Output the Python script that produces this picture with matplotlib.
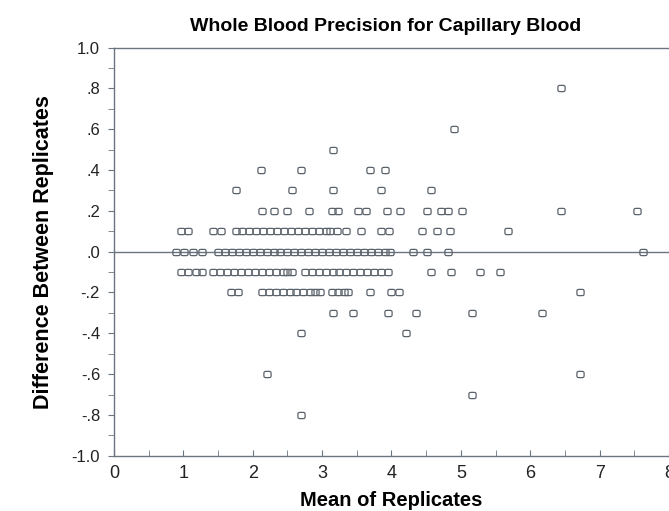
import numpy as np
import matplotlib
matplotlib.use('Agg')
from matplotlib import pyplot as plt
from matplotlib.ticker import MultipleLocator, FixedLocator

# mean of replicates for each difference level
x_p08 = [6.44]
x_p06 = [4.90]
x_p05 = [3.16]
x_p04 = [2.12, 2.69, 3.69, 3.90]
x_p03 = [1.76, 2.56, 3.16, 3.85, 4.57]
x_p02 = [2.13, 2.30, 2.49, 2.81, 3.14, 3.23, 3.52, 3.63, 3.93, 4.12,
         4.51, 4.71, 4.82, 5.01, 6.44, 7.54]
x_p01 = [0.96, 1.06, 1.43, 1.54, 1.76, 1.85, 1.95, 2.05, 2.15, 2.25,
         2.35, 2.45, 2.55, 2.65, 2.75, 2.85, 2.95, 3.05, 3.12, 3.21,
         3.35, 3.56, 3.85, 3.96, 4.44, 4.66, 4.85, 5.68]
x_0 = [0.89, 1.01, 1.14, 1.27, 1.50, 1.60, 1.70, 1.80, 1.90, 2.00,
       2.10, 2.20, 2.30, 2.40, 2.50, 2.60, 2.70, 2.80, 2.90, 3.00,
       3.10, 3.20, 3.30, 3.40, 3.50, 3.60, 3.70, 3.80, 3.90, 3.98,
       4.31, 4.51, 4.82, 7.63]
x_m01 = [0.96, 1.07, 1.18, 1.27, 1.43, 1.53, 1.63, 1.73, 1.83, 1.93,
         2.03, 2.13, 2.23, 2.33, 2.43, 2.50, 2.56, 2.75, 2.85, 2.95,
         3.05, 3.15, 3.25, 3.35, 3.45, 3.55, 3.65, 3.75, 3.85, 3.95,
         4.57, 4.86, 5.27, 5.56]
x_m02 = [1.68, 1.79, 2.13, 2.23, 2.33, 2.43, 2.53, 2.63, 2.73, 2.83,
         2.90, 2.97, 3.14, 3.23, 3.31, 3.38, 3.69, 4.00, 4.11, 6.72]
x_m03 = [3.16, 3.45, 3.95, 4.36, 5.16, 6.17]
x_m04 = [2.69, 4.21]
x_m06 = [2.20, 6.72]
x_m07 = [5.16]
x_m08 = [2.69]

rows = [(0.8, x_p08), (0.6, x_p06), (0.5, x_p05), (0.4, x_p04), (0.3, x_p03),
        (0.2, x_p02), (0.1, x_p01), (0.0, x_0), (-0.1, x_m01), (-0.2, x_m02),
        (-0.3, x_m03), (-0.4, x_m04), (-0.6, x_m06), (-0.7, x_m07), (-0.8, x_m08)]

y_ticks = [1.0, 0.8, 0.6, 0.4, 0.2, 0.0, -0.2, -0.4, -0.6, -0.8, -1.0]
y_labels = ['1.0', '.8', '.6', '.4', '.2', '.0', '-.2', '-.4', '-.6', '-.8', '-1.0']
x_ticks = [0, 1, 2, 3, 4, 5, 6, 7, 8]

plt.rcParams['font.family'] = ['Liberation Sans', 'DejaVu Sans']

line_col = '#6b7580'
pt_col = '#5a626b'

# rounded-square marker
t = np.linspace(0, 2 * np.pi, 33)
c, s = np.cos(t), np.sin(t)
marker = np.column_stack([np.sign(c) * np.abs(c) ** 0.45 * 1.15,
                          np.sign(s) * np.abs(s) ** 0.45])

fig = plt.figure(figsize=(6.69, 5.11), dpi=100)
ax = fig.add_axes([0.1704, 0.1082, 0.8296, 0.7985])

xs, ys = [], []
for yv, xl in rows:
    xs += xl
    ys += [yv] * len(xl)
ax.plot(xs, ys, linestyle='none', marker=marker, markersize=5.2,
        markerfacecolor='none', markeredgecolor=pt_col, markeredgewidth=0.9,
        clip_on=False, zorder=3)

ax.axhline(0, color=line_col, lw=1.0, zorder=2)

ax.set_xlim(0, 8)
ax.set_ylim(-1.0, 1.0)
ax.yaxis.set_major_locator(FixedLocator(y_ticks))
ax.set_yticklabels(y_labels)
ax.yaxis.set_minor_locator(MultipleLocator(0.1))
ax.xaxis.set_major_locator(FixedLocator(x_ticks))
ax.xaxis.set_minor_locator(MultipleLocator(0.5))

for side in ['left', 'bottom', 'top']:
    ax.spines[side].set_color(line_col)
    ax.spines[side].set_linewidth(1.0)
ax.spines['right'].set_visible(False)

ax.tick_params(axis='y', which='both', direction='out', length=4,
               color=line_col, labelsize=12, labelcolor='#222222', pad=6)
ax.tick_params(axis='x', which='both', direction='in', length=4,
               color=line_col, labelsize=13, labelcolor='#222222', pad=7)

ax.set_xlabel('Mean of Replicates', fontsize=14.5, fontweight='bold', labelpad=6)
ax.set_ylabel('Difference Between Replicates', fontsize=15.5, fontweight='bold', labelpad=13)
fig.text(0.576, 0.94, 'Whole Blood Precision for Capillary Blood',
         ha='center', va='baseline', fontsize=14, fontweight='bold')

plt.savefig('out.png', dpi=100)
